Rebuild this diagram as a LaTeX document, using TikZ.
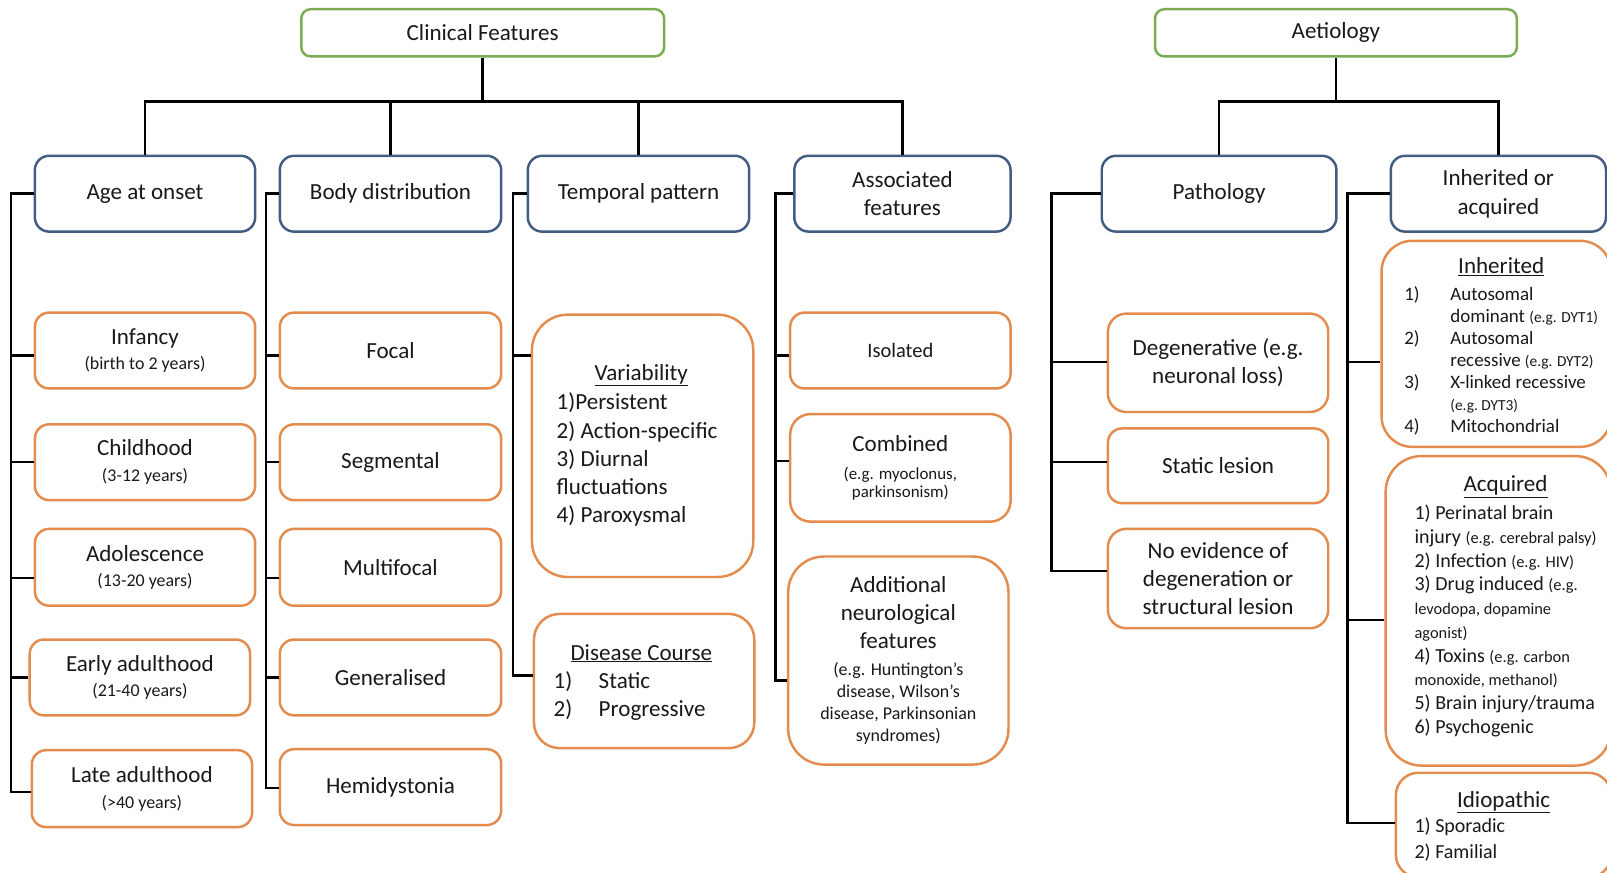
\documentclass[tikz,border=0pt]{standalone}
\usepackage{fontspec}
\setmainfont{Carlito}
\usepackage{array}
\definecolor{framegreen}{RGB}{122,172,84}
\definecolor{frameblue}{RGB}{66,92,130}
\definecolor{frameorange}{RGB}{228,140,78}
\definecolor{ink}{RGB}{25,25,25}
\newcommand\fsz[2]{\fontsize{#1}{#2}\selectfont}
\newcommand\eg[2][15]{{\fsz{#1}{18}#2}}
% stub from a category box down its rail to a child box
\newcommand\branch[4]{\draw[wire] (#1.west) -- ++(#2,0) |- ([yshift=#4]#3.west);}

\tikzset{
  box/.style={draw, rounded corners=#1, line width=2.4pt, fill=white, inner sep=0pt,
              align=center, text=ink, font=\fsz{22.5}{27.5}},
  sz/.style 2 args={minimum width=#1, minimum height=#2},
  headbox/.style={box=9pt, draw=framegreen},
  catbox/.style={box=14pt, draw=frameblue, font=\fsz{22.5}{28}},
  leafbox/.style={box=14pt, draw=frameorange},
  agebox/.style={leafbox, font=\fsz{22.5}{25}},
  listtext/.style={inner sep=0pt, anchor=west, text=ink},
  wire/.style={line width=2.4pt, draw=black},
}
\newcommand\yrs[1]{{\fsz{17.5}{20}#1}}

\begin{document}
\begin{tikzpicture}[x=1pt,y=-1pt]
\useasboundingbox (0,0) rectangle (1568,851);
\clip (0,0) rectangle (1568,851);
\fill[white] (0,0) rectangle (1568,851);

% headings
\node[headbox, sz={354}{46}] (cf)  at (471,32)    {Clinical Features};
\node[headbox, sz={353}{46}] (aet) at (1303.5,32) {Aetiology};

% categories
\node[catbox, sz={215}{74}] (age)   at (141.5,189) {Age at onset};
\node[catbox, sz={216}{74}] (body)  at (381,189)   {Body distribution};
\node[catbox, sz={216}{74}] (temp)  at (623,189)   {Temporal pattern};
\node[catbox, sz={211}{74}] (assoc) at (880.5,189) {Associated\\features};
\node[catbox, sz={229}{74}] (path)  at (1189.5,189){Pathology};
\node[catbox, sz={210}{74}] (inh)   at (1462,189)  {Inherited or\\acquired};

% age at onset
\node[agebox, sz={215}{74}] (inf)   at (141.5,342)   {Infancy\\\yrs{(birth to 2 years)}};
\node[agebox, sz={215}{74}] (child) at (141.5,451)   {Childhood\\\yrs{(3-12 years)}};
\node[agebox, sz={215}{75}] (adol)  at (141.5,553.5) {Adolescence\\\yrs{(13-20 years)}};
\node[agebox, sz={215}{74}] (early) at (136.5,661)   {Early adulthood\\\yrs{(21-40 years)}};
\node[agebox, sz={215}{75}] (late)  at (138.5,769.5) {Late adulthood\\\yrs{(>40 years)}};

% body distribution
\node[leafbox, sz={216}{74}] (focal) at (381,342)   {Focal};
\node[leafbox, sz={216}{74}] (seg)   at (381,451)   {Segmental};
\node[leafbox, sz={216}{75}] (multi) at (381,553.5) {Multifocal};
\node[leafbox, sz={216}{74}] (gen)   at (381,661)   {Generalised};
\node[leafbox, sz={216}{74}] (hemi)  at (381,768)   {Hemidystonia};

% temporal pattern
\node[leafbox, rounded corners=35pt, sz={216}{256}] (var) at (627,435) {};
\node[listtext, font=\fsz{22.5}{27.5}] (varT) at (543,435)
  {\begin{tabular}{@{}l@{}}\multicolumn{1}{@{\hspace{8pt}}c@{}}{\underline{Variability}}\\[1.5pt]
   1)Persistent\\ 2) Action-specific\\ 3) Diurnal\\ fluctuations\\ 4) Paroxysmal\end{tabular}};
\node[leafbox, rounded corners=25pt, sz={215}{131}] (dc) at (628.5,664.5) {};
\node[listtext, font=\fsz{22.5}{27.5}] (dcT) at (540,666)
  {\begin{tabular}{@{}p{44pt}@{}l@{}}\multicolumn{2}{@{\hspace{16.5pt}}c@{}}{\underline{Disease Course}}\\
   1) & Static\\ 2) & Progressive\end{tabular}};

% associated features
\node[leafbox, sz={215}{74}, font=\fsz{20}{24}] (iso) at (878.5,342) {Isolated};
\node[leafbox, rounded corners=20pt, sz={215}{105}, font=\fsz{22.5}{18}] (comb) at (878.5,456.5)
  {Combined\\[9pt]{\fsz{16.5}{18}(e.g. myoclonus,}\\{\fsz{16.5}{18}parkinsonism)}};
\node[leafbox, rounded corners=35pt, sz={215}{203}, font=\fsz{22.5}{21.5}] (add) at (876.5,644.5)
  {Additional\\[6pt]neurological\\[6pt]features\\[4.5pt]{\fsz{17.5}{21.5}(e.g. Huntington’s}\\
   {\fsz{17.5}{21.5}disease, Wilson’s}\\{\fsz{17.5}{21.5}disease, Parkinsonian}\\{\fsz{17.5}{21.5}syndromes)}};

% pathology
\node[leafbox, rounded corners=18pt, sz={215}{96}] (deg)  at (1188.5,354)   {Degenerative (e.g.\\neuronal loss)};
\node[leafbox, sz={215}{73}]                     (stat) at (1188.5,454.5) {Static lesion};
\node[leafbox, rounded corners=18pt, sz={215}{97}] (noev) at (1188.5,564.5) {No evidence of\\degeneration or\\structural lesion};

% inherited or acquired
\node[leafbox, rounded corners=30pt, sz={224}{201}] (inhd) at (1460,335.5) {};
\node[listtext, font=\fsz{18.5}{21.5}] (inhdT) at (1370,340)
  {\begin{tabular}{@{}p{45pt}@{}l@{}}\multicolumn{2}{@{}c@{}}{\fsz{22.5}{27.5}\underline{Inherited}}\\[4pt]
   1) & Autosomal\\ & dominant \eg{(e.g. DYT1)}\\ 2) & Autosomal\\ & recessive \eg{(e.g. DYT2)}\\
   3) & X-linked recessive\\ & \eg{(e.g.\ DYT3)}\\ 4) & Mitochondrial\end{tabular}};
\node[leafbox, rounded corners=35pt, sz={220}{302}] (acq) at (1462,596) {};
\node[listtext, font=\fsz{19.5}{23.2}] (acqT) at (1380,593)
  {\begin{tabular}{@{}l@{}}\multicolumn{1}{@{}c@{}}{\fsz{22.5}{27.5}\underline{Acquired}}\\[4pt]
   1) Perinatal brain\\ injury \eg[16]{(e.g. cerebral palsy)}\\ 2) Infection \eg[16]{(e.g. HIV)}\\
   3) Drug induced \eg[16]{(e.g.}\\ \eg[16]{levodopa, dopamine}\\ \eg[16]{agonist)}\\
   4) Toxins \eg[16]{(e.g. carbon}\\ \eg[16]{monoxide, methanol)}\\ 5) Brain injury/trauma\\ 6) Psychogenic\end{tabular}};
\node[leafbox, rounded corners=22pt, sz={210}{102}] (idio) at (1467,805) {};
\node[listtext, font=\fsz{19.5}{25}] (idioT) at (1380,807.5)
  {\begin{tabular}{@{}l@{}}\multicolumn{1}{@{\hspace{41.5pt}}c@{}}{\fsz{22.5}{27.5}\underline{Idiopathic}}\\
   1) Sporadic\\ 2) Familial\end{tabular}};

% tree connectors
\foreach \n in {age,body,temp,assoc} \draw[wire] (cf.south) -- ++(0,43) -| (\n.north);
\foreach \n in {path,inh} \draw[wire] (aet.south) -- ++(0,43) -| (\n.north);

% rails to the children
\branch{age}{-22}{inf}{-5pt}
\branch{age}{-22}{child}{0pt}
\branch{age}{-22}{adol}{-10.5pt}
\branch{age}{-22}{early}{0pt}
\branch{age}{-22}{late}{-3.5pt}

\branch{body}{-12}{focal}{-5pt}
\branch{body}{-12}{seg}{0pt}
\branch{body}{-12}{multi}{-10.5pt}
\branch{body}{-12}{gen}{0pt}
\branch{body}{-12}{hemi}{-1pt}

\branch{temp}{-13}{var}{88pt}
\branch{temp}{-13}{dc}{5.5pt}

\branch{assoc}{-17}{iso}{-5pt}
\branch{assoc}{-17}{comb}{6.5pt}
\branch{assoc}{-17}{add}{-19.5pt}

\branch{path}{-48}{deg}{1pt}
\branch{path}{-48}{stat}{3.5pt}
\branch{path}{-48}{noev}{7.5pt}

\branch{inh}{-41}{inhd}{-17.5pt}
\branch{inh}{-41}{acq}{-9pt}
\branch{inh}{-41}{idio}{2pt}
\end{tikzpicture}
\end{document}
